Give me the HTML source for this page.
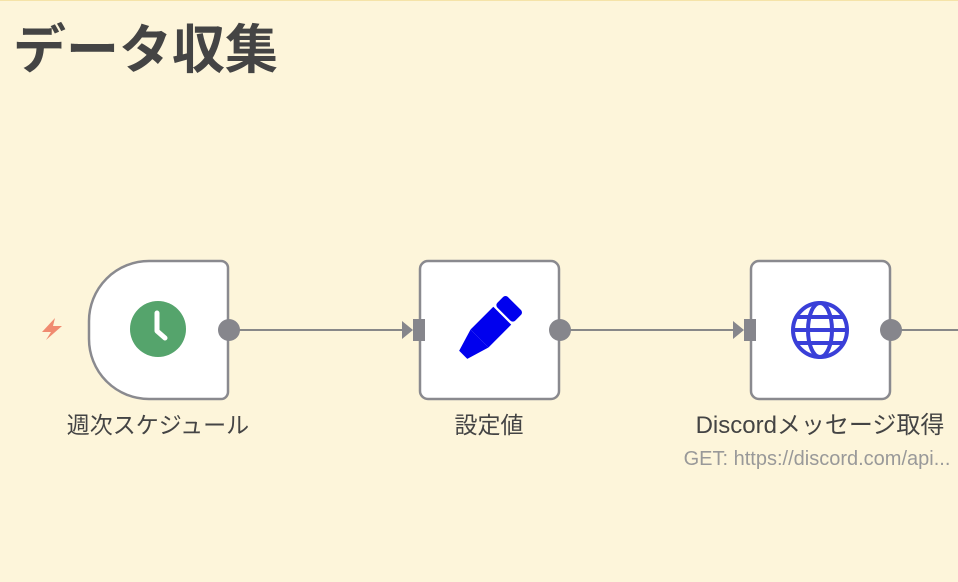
<!DOCTYPE html>
<html><head><meta charset="utf-8"><style>
html,body{margin:0;padding:0;width:958px;height:582px;overflow:hidden;background:#fdf5da;}
svg{display:block}
</style></head><body>
<svg width="958" height="582" viewBox="0 0 958 582" xmlns="http://www.w3.org/2000/svg" font-family="'Liberation Sans','Noto Sans CJK JP',sans-serif">
<rect x="0" y="0" width="958" height="582" fill="#fdf5da"/>
<line x1="0" y1="0.5" x2="958" y2="0.5" stroke="#f5e3a8"/>
<text x="13" y="68" font-size="53" font-weight="bold" fill="#444">データ収集</text>
<line x1="229" y1="330" x2="408" y2="330" stroke="#888" stroke-width="2"/>
<line x1="560" y1="330" x2="739" y2="330" stroke="#888" stroke-width="2"/>
<line x1="891" y1="330" x2="958" y2="330" stroke="#888" stroke-width="2"/>
<polygon points="402,321 413,330 402,339" fill="#86868c"/>
<polygon points="733,321 744,330 733,339" fill="#86868c"/>
<path d="M149,261 H221 A7,7 0 0 1 228,268 V392 A7,7 0 0 1 221,399 H149 A60,60 0 0 1 89,339 V321 A60,60 0 0 1 149,261 Z" fill="#fff" stroke="#8a8a8f" stroke-width="2.5"/>
<circle cx="158" cy="329" r="28" fill="#55a46c"/>
<path d="M157,313 V331 L165,338" stroke="#fff" stroke-width="5" fill="none" stroke-linecap="round" stroke-linejoin="round"/>
<circle cx="229" cy="330" r="11" fill="#86868c"/>
<path d="M55,318 L42,332 H51 L46,340 L62,326 H53 Z" fill="#f08a70"/>
<text x="158" y="433" font-size="23" fill="#444" text-anchor="middle">週次スケジュール</text>
<rect x="420" y="261" width="139" height="138" rx="8" fill="#fff" stroke="#8a8a8f" stroke-width="2.5"/>
<rect x="413" y="319" width="12" height="22" fill="#86868c"/>
<g transform="translate(486,332) rotate(-45) scale(1.15)">
<rect x="-8" y="-11" width="28" height="22" fill="#0000ee"/>
<rect x="22" y="-11" width="13" height="22" rx="3" fill="#0000ee"/>
<polygon points="-8,-11 -8,11 -28,5 -28,-5" fill="#0000ee"/>
</g>
<circle cx="560" cy="330" r="11" fill="#86868c"/>
<text x="489" y="433" font-size="23" fill="#444" text-anchor="middle">設定値</text>
<rect x="751" y="261" width="139" height="138" rx="8" fill="#fff" stroke="#8a8a8f" stroke-width="2.5"/>
<rect x="744" y="319" width="12" height="22" fill="#86868c"/>
<g stroke="#3a3fd8" stroke-width="4" fill="none">
<circle cx="820" cy="330" r="27"/>
<ellipse cx="820" cy="330" rx="12" ry="27"/>
<line x1="793" y1="330" x2="847" y2="330"/>
<line x1="797" y1="317" x2="843" y2="317"/>
<line x1="797" y1="343" x2="843" y2="343"/>
</g>
<circle cx="891" cy="330" r="11" fill="#86868c"/>
<text x="820" y="433" font-size="24" fill="#444" text-anchor="middle">Discordメッセージ取得</text>
<text x="817" y="465" font-size="20" fill="#999" text-anchor="middle">GET: https://discord.com/api...</text>
</svg>
</body></html>
